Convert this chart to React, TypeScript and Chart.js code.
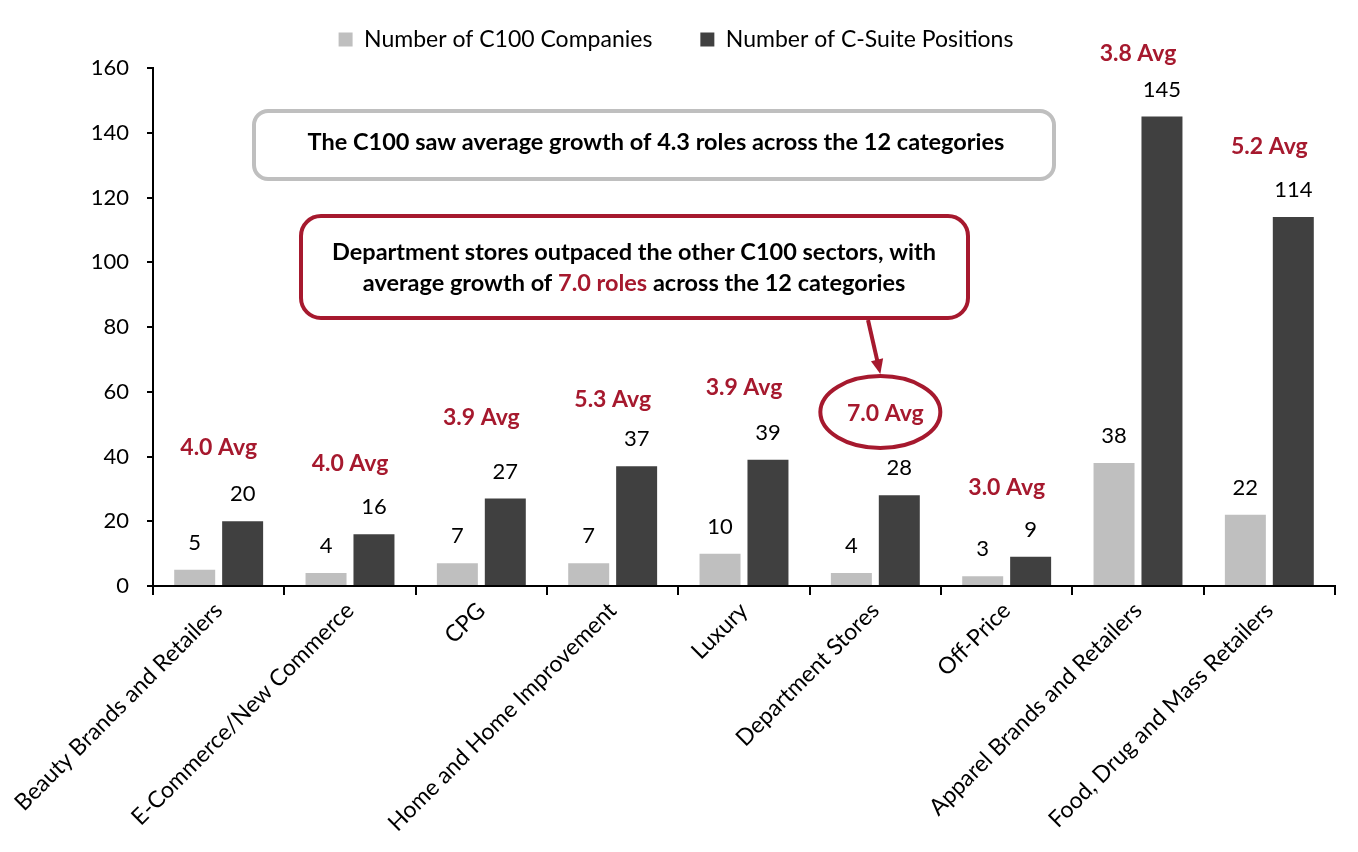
import React, { useEffect, useRef } from "react";
import { Chart, registerables } from "chart.js";

Chart.register(...registerables);

const categories = [
  "Beauty Brands and Retailers",
  "E-Commerce/New Commerce",
  "CPG",
  "Home and Home Improvement",
  "Luxury",
  "Department Stores",
  "Off-Price",
  "Apparel Brands and Retailers",
  "Food, Drug and Mass Retailers",
];
const companies = [5, 4, 7, 7, 10, 4, 3, 38, 22];
const positions = [20, 16, 27, 37, 39, 28, 9, 145, 114];
const avgRoles = [4.0, 4.0, 3.9, 5.3, 3.9, 7.0, 3.0, 3.8, 5.2];
// vertical level (in axis units) where each "Avg" note sits
const avgLabelLevel = [42.9, 37.7, 51.9, 57.5, 61.2, 53.4, 30.3, 164.6, 135.6];
const highlightIndex = 5;
const seriesNames = ["Number of C100 Companies", "Number of C-Suite Positions"];
const summaryText = "The C100 saw average growth of 4.3 roles across the 12 categories";
const calloutLine1 = "Department stores outpaced the other C100 sectors, with";
const calloutLine2 = ["average growth of ", "7.0 roles", " across the 12 categories"];

const RED = "#a6192e";
const LIGHT = "#bfbfbf";
const DARK = "#404040";
const FONT = "Lato";
const PAD_TOP = -20;
const PAD_LEFT = 17;
const CHART_TOP = 68;
const CHART_LEFT = 153;

const annotationPlugin = {
  id: "annotations",
  afterInit(chart: any) {
    const legend = chart.legend;
    if (legend) {
      const orig = legend.fit.bind(legend);
      legend.fit = function () {
        orig();
        this.height = CHART_TOP - PAD_TOP;
      };
    }
  },
  afterDraw(chart: any) {
    const ctx = chart.ctx;
    const xs = chart.scales.x;
    const ys = chart.scales.y;
    ctx.save();

    // value labels
    ctx.font = `22px ${FONT}`;
    ctx.fillStyle = "#000";
    ctx.textAlign = "center";
    ctx.textBaseline = "middle";
    chart.data.datasets.forEach((ds: any, i: number) => {
      const meta = chart.getDatasetMeta(i);
      meta.data.forEach((bar: any, j: number) => {
        ctx.fillText(String(ds.data[j]), bar.x, bar.y - 27);
      });
    });

    // avg labels
    ctx.font = `bold 23px ${FONT}`;
    ctx.fillStyle = RED;
    let ell = { x: 0, y: 0 };
    avgRoles.forEach((v, j) => {
      const x = xs.getPixelForValue(j) + (j === highlightIndex ? 10 : 0);
      const y = ys.getPixelForValue(avgLabelLevel[j]);
      ctx.fillText(`${v.toFixed(1)} Avg`, x, y);
      if (j === highlightIndex) ell = { x: x - 5, y: y - 1 };
    });

    // ellipse around highlight
    const rx = 60, ry = 36;
    ctx.strokeStyle = RED;
    ctx.lineWidth = 4;
    ctx.beginPath();
    ctx.ellipse(ell.x, ell.y, rx, ry, 0, 0, Math.PI * 2);
    ctx.stroke();

    // grey summary box
    ctx.fillStyle = "#fff";
    ctx.strokeStyle = LIGHT;
    ctx.lineWidth = 4;
    ctx.beginPath();
    ctx.roundRect(254, 111, 800, 68, 14);
    ctx.fill();
    ctx.stroke();
    ctx.fillStyle = "#000";
    ctx.font = `bold 23.5px ${FONT}`;
    ctx.fillText(summaryText, 656, 142);

    // red callout box
    ctx.fillStyle = "#fff";
    ctx.strokeStyle = RED;
    ctx.beginPath();
    ctx.roundRect(301, 216, 667, 102, 20);
    ctx.fill();
    ctx.stroke();
    ctx.fillStyle = "#000";
    ctx.fillText(calloutLine1, 634, 252);
    const widths = calloutLine2.map((t) => ctx.measureText(t).width);
    const total = widths.reduce((a, b) => a + b, 0);
    let cx = 634 - total / 2;
    ctx.textAlign = "left";
    calloutLine2.forEach((t, k) => {
      ctx.fillStyle = k === 1 ? RED : "#000";
      ctx.fillText(t, cx, 283);
      cx += widths[k];
    });

    // arrow
    const sx = 868, sy = 320;
    const ex = ell.x, ey = ell.y - ry - 2;
    const ang = Math.atan2(ey - sy, ex - sx);
    const head = 16;
    ctx.strokeStyle = RED;
    ctx.fillStyle = RED;
    ctx.lineWidth = 4;
    ctx.beginPath();
    ctx.moveTo(sx, sy);
    ctx.lineTo(ex - Math.cos(ang) * head * 0.8, ey - Math.sin(ang) * head * 0.8);
    ctx.stroke();
    ctx.beginPath();
    ctx.moveTo(ex, ey);
    ctx.lineTo(ex - head * Math.cos(ang - 0.4), ey - head * Math.sin(ang - 0.4));
    ctx.lineTo(ex - head * Math.cos(ang + 0.4), ey - head * Math.sin(ang + 0.4));
    ctx.closePath();
    ctx.fill();

    ctx.restore();
  },
};

export default function App() {
  const ref = useRef<HTMLCanvasElement | null>(null);
  useEffect(() => {
    document.body.style.margin = "0";
    const canvas = ref.current;
    if (!canvas) return;
    const chart = new Chart(canvas, {
      type: "bar",
      data: {
        labels: categories,
        datasets: [
          {
            label: seriesNames[0],
            data: companies,
            backgroundColor: LIGHT,
            categoryPercentage: 0.73,
            barPercentage: 0.855,
          },
          {
            label: seriesNames[1],
            data: positions,
            backgroundColor: DARK,
            categoryPercentage: 0.73,
            barPercentage: 0.855,
          },
        ],
      },
      options: {
        responsive: false,
        animation: false,
        layout: { padding: { top: PAD_TOP, right: 23, bottom: 0, left: PAD_LEFT } },
        plugins: {
          legend: {
            display: true,
            position: "top",
            labels: {
              font: { family: FONT, size: 23 },
              color: "#000",
              boxWidth: 14,
              boxHeight: 14,
              padding: 48,
            },
          },
          tooltip: { enabled: false },
        },
        scales: {
          x: {
            grid: {
              display: true,
              drawOnChartArea: false,
              drawTicks: true,
              tickLength: 9,
              color: "#000",
              lineWidth: 2,
              offset: true,
            },
            border: { display: true, color: "#000", width: 2 },
            ticks: {
              autoSkip: false,
              maxRotation: 45,
              minRotation: 45,
              padding: 2,
              color: "#000",
              font: { family: FONT, size: 23 },
            },
            afterFit(s: any) {
              s.height = 266;
            },
          },
          y: {
            min: 0,
            max: 160,
            ticks: {
              stepSize: 20,
              padding: 18,
              color: "#000",
              font: { family: FONT, size: 22 },
            },
            grid: {
              display: true,
              drawOnChartArea: false,
              drawTicks: true,
              tickLength: 6,
              color: "#000",
              lineWidth: 2,
            },
            border: { display: true, color: "#000", width: 2 },
            afterFit(s: any) {
              s.width = CHART_LEFT - PAD_LEFT;
            },
          },
        },
      },
      plugins: [annotationPlugin],
    });
    return () => chart.destroy();
  }, []);
  return (
    <div style={{ width: 1358, height: 852 }}>
      <canvas ref={ref} width={1358} height={852} style={{ display: "block" }} />
    </div>
  );
}
